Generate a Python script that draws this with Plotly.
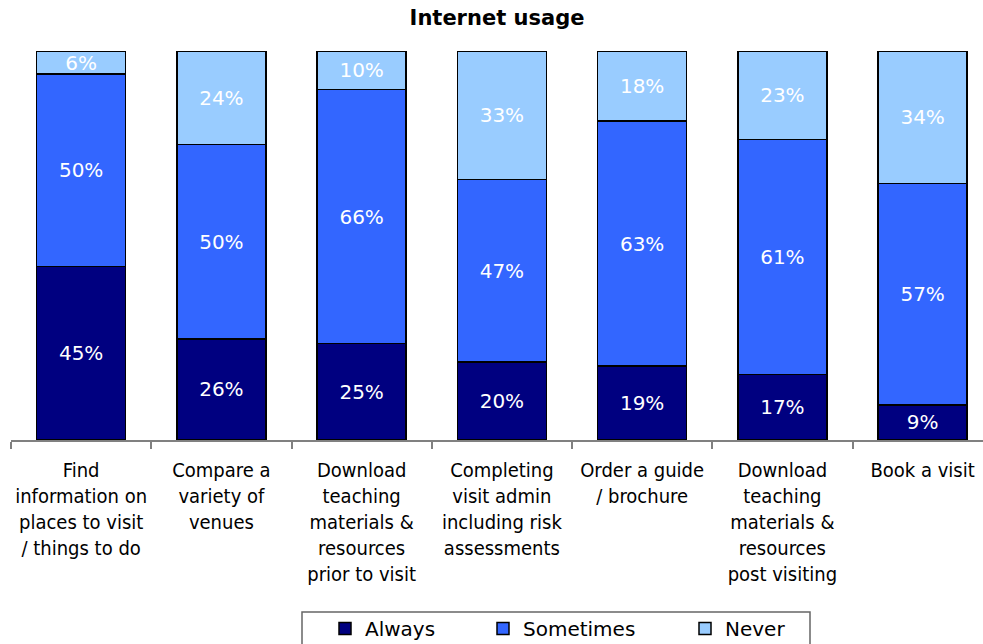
import plotly.graph_objects as go

# Survey categories (multi-line tick labels)
categories = [
    "Find<br>information on<br>places to visit<br>/ things to do",
    "Compare a<br>variety of<br>venues",
    "Download<br>teaching<br>materials &amp;<br>resources<br>prior to visit",
    "Completing<br>visit admin<br>including risk<br>assessments",
    "Order a guide<br>/ brochure",
    "Download<br>teaching<br>materials &amp;<br>resources<br>post visiting",
    "Book a visit",
]

# Percentages per response
always = [45, 26, 25, 20, 19, 17, 9]
sometimes = [50, 50, 66, 47, 63, 61, 57]
never = [6, 24, 10, 33, 18, 23, 34]

series = [
    ("Always", always, "#000080", "legend", 339),
    ("Sometimes", sometimes, "#3366FF", "legend2", 497),
    ("Never", never, "#99CCFF", "legend3", 699),
]

label_font = "DejaVu Sans"
cond_font = "DejaVu Sans Condensed, DejaVu Sans"

W, H = 983, 644
left, right, top, bottom = 11, 0, 51, 204
plot_w = W - left - right
plot_h = H - top - bottom
cat_w = 140.25

def px_to_paper_x(px):
    return (px - left) / plot_w

def px_to_paper_y(py):
    return (H - bottom - py) / plot_h

fig = go.Figure()
legends = {}
for name, vals, color, leg, swatch_x in series:
    fig.add_trace(go.Bar(
        name=name,
        x=categories,
        y=vals,
        text=vals,
        texttemplate="%{text}%",
        textposition="inside",
        insidetextanchor="middle",
        textangle=0,
        textfont=dict(family=label_font, size=20, color="white"),
        marker=dict(color=color, line=dict(color="black", width=1.5)),
        width=0.635,
        legend=leg,
    ))
    legends[leg] = dict(
        orientation="h",
        x=px_to_paper_x(swatch_x - 14), xanchor="left",
        y=px_to_paper_y(609), yanchor="top",
        font=dict(family=label_font, size=20, color="black"),
        bgcolor="rgba(0,0,0,0)",
        borderwidth=0,
    )

fig.update_layout(
    width=W,
    height=H,
    barmode="stack",
    barnorm="percent",
    plot_bgcolor="white",
    paper_bgcolor="white",
    margin=dict(l=left, r=right, t=top, b=bottom, autoexpand=False),
    uniformtext=dict(minsize=20, mode="show"),
    title=dict(
        text="<b>Internet usage</b>",
        font=dict(family=label_font, size=21, color="black"),
        x=0.5, xref="paper", xanchor="center",
        y=1 - 18 / H, yref="container", yanchor="middle",
    ),
    xaxis=dict(
        range=[-0.5, -0.5 + plot_w / cat_w],
        showline=True, linecolor="#808080", linewidth=1.5,
        ticks="outside", tickson="boundaries", ticklen=7,
        tickcolor="#808080", tickwidth=1.5,
        tickangle=0,
        ticklabelstandoff=11,
        tickfont=dict(family=cond_font, size=20, color="black"),
        showgrid=False,
    ),
    yaxis=dict(range=[0, 100], visible=False, showgrid=False),
    showlegend=True,
    shapes=[dict(
        type="rect", xref="paper", yref="paper",
        x0=px_to_paper_x(302), x1=px_to_paper_x(810),
        y0=px_to_paper_y(612), y1=px_to_paper_y(660),
        line=dict(color="#666666", width=1.5),
        fillcolor="rgba(0,0,0,0)",
        layer="below",
    )],
    **legends,
)

fig.write_html("out.html")
